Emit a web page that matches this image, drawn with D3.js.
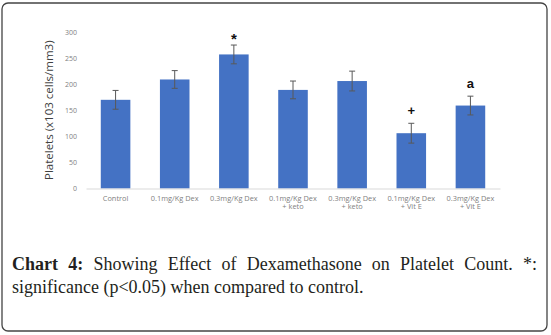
<!DOCTYPE html>
<html lang="en">
<head>
    <meta charset="UTF-8">
    <title></title>
    <style type="text/css">
        html, body { padding:0; margin:0; background:#fff; }
    </style>
</head>
<body>
<script src="https://d3js.org/d3.v7.min.js"></script>
<script>
    var groups = [
        ['Control'],
        ['0.1mg/Kg Dex'],
        ['0.3mg/Kg Dex'],
        ['0.1mg/Kg Dex', '+ keto'],
        ['0.3mg/Kg Dex', '+ keto'],
        ['0.1mg/Kg Dex', '+ Vit E'],
        ['0.3mg/Kg Dex', '+ Vit E']
    ];
    var platelets = [170, 209, 257, 189, 206, 106, 159];
    var errors = [18, 17, 18, 17, 19, 19, 18];
    var marks = ['', '', '*', '', '', '+', 'a'];
    var yTicks = [0, 50, 100, 150, 200, 250, 300];

    var W = 551, H = 335,
        pLeft = 86, pRight = 500, pTop = 32, pBottom = 188.5;

    var svg = d3.select('body').append('svg')
        .attr('width', W)
        .attr('height', H);

    // frame
    svg.append('rect')
        .attr('x', 2).attr('y', 3)
        .attr('width', 545).attr('height', 328)
        .attr('rx', 6)
        .attr('fill', '#fff')
        .attr('stroke', '#444')
        .attr('stroke-width', 1.3);

    var x = d3.scaleBand()
        .domain(d3.range(groups.length))
        .range([pLeft, pRight])
        .paddingInner(0.5)
        .paddingOuter(0.25);

    var y = d3.scaleLinear()
        .domain([0, 300])
        .range([pBottom, pTop]);

    // y ticks (no line)
    var yAxis = svg.append('g')
        .attr('transform', 'translate(' + (pLeft - 9) + ',0)')
        .call(d3.axisLeft(y).tickValues(yTicks).tickSize(0).tickPadding(0).tickFormat(d3.format('d')));
    yAxis.select('.domain').remove();
    yAxis.selectAll('text')
        .attr('fill', '#7f7f7f')
        .style('font-family', 'Open Sans, sans-serif')
        .style('font-size', '7px');

    // bars
    svg.selectAll('.bar')
        .data(platelets)
        .enter().append('rect')
        .attr('class', 'bar')
        .attr('x', function(d, i) { return x(i); })
        .attr('y', function(d) { return y(d); })
        .attr('width', x.bandwidth())
        .attr('height', function(d) { return y(0) - y(d); })
        .attr('fill', '#4472c4');

    // error bars
    var eb = svg.selectAll('.err')
        .data(platelets)
        .enter().append('g')
        .attr('class', 'err')
        .attr('stroke', '#595959')
        .attr('stroke-width', 1);
    eb.append('line')
        .attr('x1', function(d, i) { return x(i) + x.bandwidth() / 2; })
        .attr('x2', function(d, i) { return x(i) + x.bandwidth() / 2; })
        .attr('y1', function(d, i) { return y(d + errors[i]); })
        .attr('y2', function(d, i) { return y(d - errors[i]); });
    [1, -1].forEach(function(s) {
        eb.append('line')
            .attr('x1', function(d, i) { return x(i) + x.bandwidth() / 2 - 3; })
            .attr('x2', function(d, i) { return x(i) + x.bandwidth() / 2 + 3; })
            .attr('y1', function(d, i) { return y(d + s * errors[i]); })
            .attr('y2', function(d, i) { return y(d + s * errors[i]); });
    });

    // x axis
    var xAxis = svg.append('g')
        .attr('transform', 'translate(0,' + pBottom + ')')
        .call(d3.axisBottom(x).tickSize(0).tickFormat(''));
    xAxis.select('.domain').attr('stroke', '#d9d9d9').attr('stroke-width', 1);

    svg.selectAll('.cat')
        .data(groups)
        .enter().append('text')
        .attr('class', 'cat')
        .attr('text-anchor', 'middle')
        .attr('fill', '#7f7f7f')
        .style('font-family', 'Open Sans, sans-serif')
        .style('font-size', '7.4px')
        .each(function(d, i) {
            var t = d3.select(this);
            d.forEach(function(line, k) {
                t.append('tspan')
                    .attr('x', x(i) + x.bandwidth() / 2)
                    .attr('y', pBottom + 12 + k * 8.5)
                    .text(line);
            });
        });

    // significance marks
    svg.selectAll('.mark')
        .data(platelets)
        .enter().append('text')
        .attr('class', 'mark')
        .attr('x', function(d, i) { return x(i) + x.bandwidth() / 2; })
        .attr('y', function(d, i) { return y(d + errors[i]) - (marks[i] === '*' ? 1 : 8); })
        .attr('text-anchor', 'middle')
        .style('font-family', 'Liberation Sans, Arial, sans-serif')
        .style('font-size', function(d, i) { return marks[i] === '*' ? '15px' : '13px'; })
        .style('font-weight', 'bold')
        .attr('fill', '#111')
        .text(function(d, i) { return marks[i]; });

    // y title
    svg.append('text')
        .attr('transform', 'translate(50,' + ((pTop + pBottom) / 2) + ') rotate(-90)')
        .attr('text-anchor', 'middle')
        .attr('dominant-baseline', 'middle')
        .attr('fill', '#404040')
        .style('font-family', 'Open Sans, sans-serif')
        .style('font-size', '11.5px')
        .text('Platelets (x103 cells/mm3)');

    // caption, first line justified with word spacing
    var cap = svg.append('text')
        .attr('x', 12).attr('y', 269.5)
        .style('font-family', 'Liberation Serif, serif')
        .style('font-size', '18px')
        .attr('fill', '#231f20');
    cap.append('tspan').style('font-weight', 'bold').text('Chart 4:');
    cap.append('tspan').text(' Showing Effect of Dexamethasone on Platelet Count. *:');
    var natural = cap.node().getComputedTextLength();
    cap.style('word-spacing', Math.max(0, (525 - natural) / 9) + 'px');

    svg.append('text')
        .attr('x', 12).attr('y', 292.5)
        .style('font-family', 'Liberation Serif, serif')
        .style('font-size', '18px')
        .attr('fill', '#231f20')
        .text('significance (p<0.05) when compared to control.');
</script>
</body>
</html>
